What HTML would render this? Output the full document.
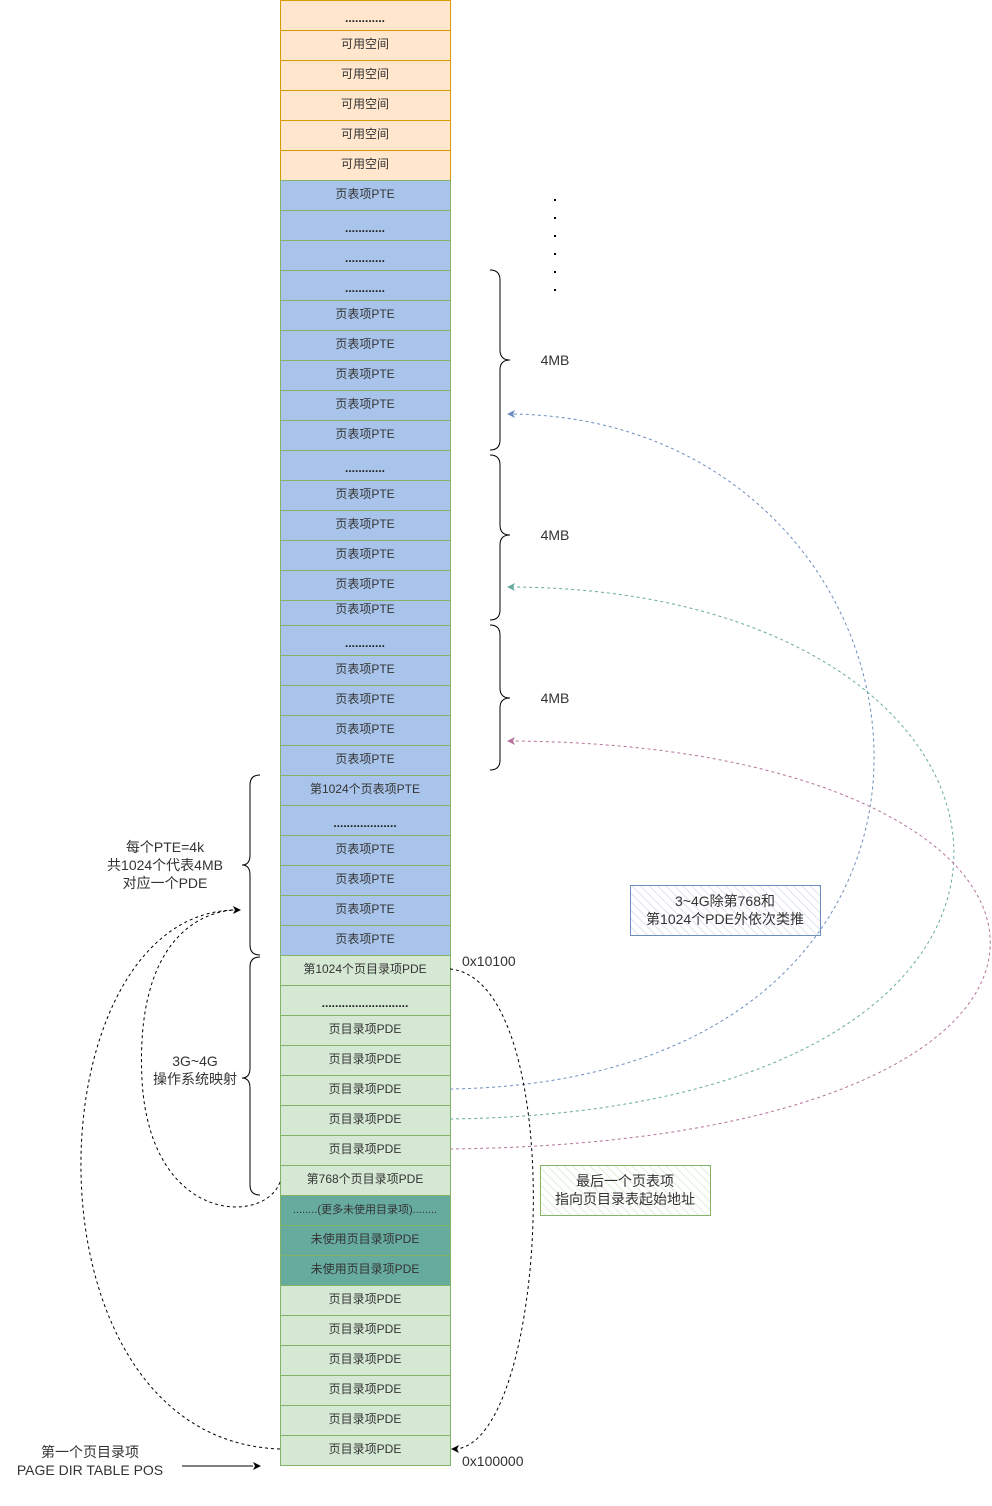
<!DOCTYPE html>
<html><head><meta charset="utf-8"><style>
html,body{margin:0;padding:0;background:#fff;}
svg{display:block;font-family:"Liberation Sans","Noto Sans CJK SC",sans-serif;}
</style></head><body>
<svg width="992" height="1506" viewBox="0 0 992 1506" xmlns="http://www.w3.org/2000/svg">
<defs>
<pattern id="h" width="6" height="6" patternUnits="userSpaceOnUse" patternTransform="rotate(-45)">
<line x1="0" y1="0" x2="0" y2="6" stroke="#dde3ee" stroke-width="2"/></pattern>
<pattern id="hg" width="6" height="6" patternUnits="userSpaceOnUse" patternTransform="rotate(-45)">
<line x1="0" y1="0" x2="0" y2="6" stroke="#e0eedb" stroke-width="2"/></pattern>
</defs>
<g font-size="12" text-anchor="middle" fill="#333">
<g fill="#ffe6cc" stroke="#d79b00">
<rect x="280.5" y="0.5" width="170" height="30"/><rect x="280.5" y="30.5" width="170" height="30"/>
<rect x="280.5" y="60.5" width="170" height="30"/><rect x="280.5" y="90.5" width="170" height="30"/>
<rect x="280.5" y="120.5" width="170" height="30"/><rect x="280.5" y="150.5" width="170" height="30"/>
</g>
<g fill="#a9c4eb" stroke="#82b366">
<rect x="280.5" y="180.5" width="170" height="30"/><rect x="280.5" y="210.5" width="170" height="30"/>
<rect x="280.5" y="240.5" width="170" height="30"/><rect x="280.5" y="270.5" width="170" height="30"/>
<rect x="280.5" y="300.5" width="170" height="30"/><rect x="280.5" y="330.5" width="170" height="30"/>
<rect x="280.5" y="360.5" width="170" height="30"/><rect x="280.5" y="390.5" width="170" height="30"/>
<rect x="280.5" y="420.5" width="170" height="30"/><rect x="280.5" y="450.5" width="170" height="30"/>
<rect x="280.5" y="480.5" width="170" height="30"/><rect x="280.5" y="510.5" width="170" height="30"/>
<rect x="280.5" y="540.5" width="170" height="30"/><rect x="280.5" y="570.5" width="170" height="30"/>
<rect x="280.5" y="600.5" width="170" height="25"/><rect x="280.5" y="625.5" width="170" height="30"/>
<rect x="280.5" y="655.5" width="170" height="30"/><rect x="280.5" y="685.5" width="170" height="30"/>
<rect x="280.5" y="715.5" width="170" height="30"/><rect x="280.5" y="745.5" width="170" height="30"/>
<rect x="280.5" y="775.5" width="170" height="30"/><rect x="280.5" y="805.5" width="170" height="30"/>
<rect x="280.5" y="835.5" width="170" height="30"/><rect x="280.5" y="865.5" width="170" height="30"/>
<rect x="280.5" y="895.5" width="170" height="30"/><rect x="280.5" y="925.5" width="170" height="30"/>
</g>
<g fill="#d5e8d4" stroke="#82b366">
<rect x="280.5" y="955.5" width="170" height="30"/><rect x="280.5" y="985.5" width="170" height="30"/>
<rect x="280.5" y="1015.5" width="170" height="30"/><rect x="280.5" y="1045.5" width="170" height="30"/>
<rect x="280.5" y="1075.5" width="170" height="30"/><rect x="280.5" y="1105.5" width="170" height="30"/>
<rect x="280.5" y="1135.5" width="170" height="30"/><rect x="280.5" y="1165.5" width="170" height="30"/>
</g>
<g fill="#67ab9f" stroke="#82b366">
<rect x="280.5" y="1195.5" width="170" height="30"/><rect x="280.5" y="1225.5" width="170" height="30"/>
<rect x="280.5" y="1255.5" width="170" height="30"/>
</g>
<g fill="#d5e8d4" stroke="#82b366">
<rect x="280.5" y="1285.5" width="170" height="30"/><rect x="280.5" y="1315.5" width="170" height="30"/>
<rect x="280.5" y="1345.5" width="170" height="30"/><rect x="280.5" y="1375.5" width="170" height="30"/>
<rect x="280.5" y="1405.5" width="170" height="30"/><rect x="280.5" y="1435.5" width="170" height="30"/>
</g>
<g font-weight="bold" fill="#222">
<text x="365" y="22">............</text>
<text x="365" y="232">............</text><text x="365" y="262">............</text><text x="365" y="292">............</text>
<text x="365" y="472">............</text><text x="365" y="647">............</text>
<text x="365" y="827">...................</text>
<text x="365" y="1007">..........................</text>
</g>
<text x="365" y="48">可用空间</text><text x="365" y="78">可用空间</text><text x="365" y="108">可用空间</text>
<text x="365" y="138">可用空间</text><text x="365" y="168">可用空间</text>
<text x="365" y="198">页表项PTE</text>
<text x="365" y="318">页表项PTE</text><text x="365" y="348">页表项PTE</text><text x="365" y="378">页表项PTE</text>
<text x="365" y="408">页表项PTE</text><text x="365" y="438">页表项PTE</text>
<text x="365" y="498">页表项PTE</text><text x="365" y="528">页表项PTE</text><text x="365" y="558">页表项PTE</text>
<text x="365" y="588">页表项PTE</text><text x="365" y="613">页表项PTE</text>
<text x="365" y="673">页表项PTE</text><text x="365" y="703">页表项PTE</text><text x="365" y="733">页表项PTE</text>
<text x="365" y="763">页表项PTE</text>
<text x="365" y="793">第1024个页表项PTE</text>
<text x="365" y="853">页表项PTE</text><text x="365" y="883">页表项PTE</text><text x="365" y="913">页表项PTE</text>
<text x="365" y="943">页表项PTE</text>
<text x="365" y="973">第1024个页目录项PDE</text>
<text x="365" y="1033">页目录项PDE</text><text x="365" y="1063">页目录项PDE</text><text x="365" y="1093">页目录项PDE</text>
<text x="365" y="1123">页目录项PDE</text><text x="365" y="1153">页目录项PDE</text>
<text x="365" y="1183">第768个页目录项PDE</text>
<text x="365" y="1213" font-size="11">........(更多未使用目录项)........</text>
<text x="365" y="1243">未使用页目录项PDE</text><text x="365" y="1273">未使用页目录项PDE</text>
<text x="365" y="1303">页目录项PDE</text><text x="365" y="1333">页目录项PDE</text><text x="365" y="1363">页目录项PDE</text>
<text x="365" y="1393">页目录项PDE</text><text x="365" y="1423">页目录项PDE</text><text x="365" y="1453">页目录项PDE</text>
</g>
<g fill="#000"><rect x="554" y="199" width="2" height="2"/><rect x="554" y="217" width="2" height="2"/>
<rect x="554" y="235" width="2" height="2"/><rect x="554" y="253" width="2" height="2"/>
<rect x="554" y="271" width="2" height="2"/><rect x="554" y="289" width="2" height="2"/></g>
<g fill="none" stroke="#000" stroke-width="1">
<path d="M490,270 Q500,270 500,280 L500,350 Q500,360 510,360 Q500,360 500,370 L500,440 Q500,450 490,450"/>
<path d="M490,455 Q500,455 500,465 L500,525 Q500,535 510,535 Q500,535 500,545 L500,610 Q500,620 490,620"/>
<path d="M490,625 Q500,625 500,635 L500,688 Q500,698 510,698 Q500,698 500,708 L500,760 Q500,770 490,770"/>
<path d="M260,775 Q250,775 250,785 L250,855 Q250,865 242,865 Q250,865 250,875 L250,945 Q250,955 260,955"/>
<path d="M260,957 Q250,957 250,967 L250,1068 Q250,1078 242,1078 Q250,1078 250,1088 L250,1185 Q250,1195 260,1195"/>
</g>
<g font-size="14" fill="#333" text-anchor="middle">
<text x="555" y="365">4MB</text><text x="555" y="540">4MB</text><text x="555" y="703">4MB</text>
<text x="165" y="852">每个PTE=4k</text><text x="165" y="870">共1024个代表4MB</text><text x="165" y="888">对应一个PDE</text>
<text x="195" y="1066">3G~4G</text><text x="195" y="1084">操作系统映射</text>
<text x="90" y="1457">第一个页目录项</text><text x="90" y="1475">PAGE DIR TABLE POS</text>
</g>
<g font-size="14" fill="#333"><text x="462" y="966">0x10100</text><text x="462" y="1466">0x100000</text></g>
<rect x="630.5" y="885.5" width="190" height="50" fill="url(#h)" stroke="#6c8ebf"/>
<g font-size="14" fill="#333" text-anchor="middle"><text x="725" y="906">3~4G除第768和</text><text x="725" y="924">第1024个PDE外依次类推</text></g>
<rect x="540.5" y="1165.5" width="170" height="50" fill="url(#hg)" stroke="#82b366"/>
<g font-size="14" fill="#333" text-anchor="middle"><text x="625" y="1186">最后一个页表项</text><text x="625" y="1204">指向页目录表起始地址</text></g>
<g fill="none" stroke-dasharray="3,3" stroke-width="1">
<path d="M450,1089 C1050,1080 960,420 512,414" stroke="#6c8ebf"/>
<path d="M450,1119 C1150,1110 1073,590 512,587" stroke="#67ab9f"/>
<path d="M450,1149 C1190,1140 1130,745 512,741" stroke="#b5739d"/>
<path d="M450,969 C570,980 550,1440 456,1449" stroke="#000"/>
<path d="M280,1449 C15,1440 30,915 234,910" stroke="#000"/>
<path d="M280,1182 C265,1225 150,1225 142,1080 C135,940 200,912 234,910" stroke="#000"/>
</g>
<path d="M507,414 l8,-4 l-2,4 l2,4 z" fill="#6c8ebf"/>
<path d="M507,587 l8,-4 l-2,4 l2,4 z" fill="#67ab9f"/>
<path d="M507,741 l8,-4 l-2,4 l2,4 z" fill="#b5739d"/>
<path d="M451,1449 l8,-4 l-2,4 l2,4 z" fill="#000"/>
<path d="M241,910 l-8,-4 l2,4 l-2,4 z" fill="#000"/>
<line x1="182" y1="1466" x2="253" y2="1466" stroke="#000"/>
<path d="M261,1466 l-8,-4 l2,4 l-2,4 z" fill="#000"/>
</svg>
</body></html>
